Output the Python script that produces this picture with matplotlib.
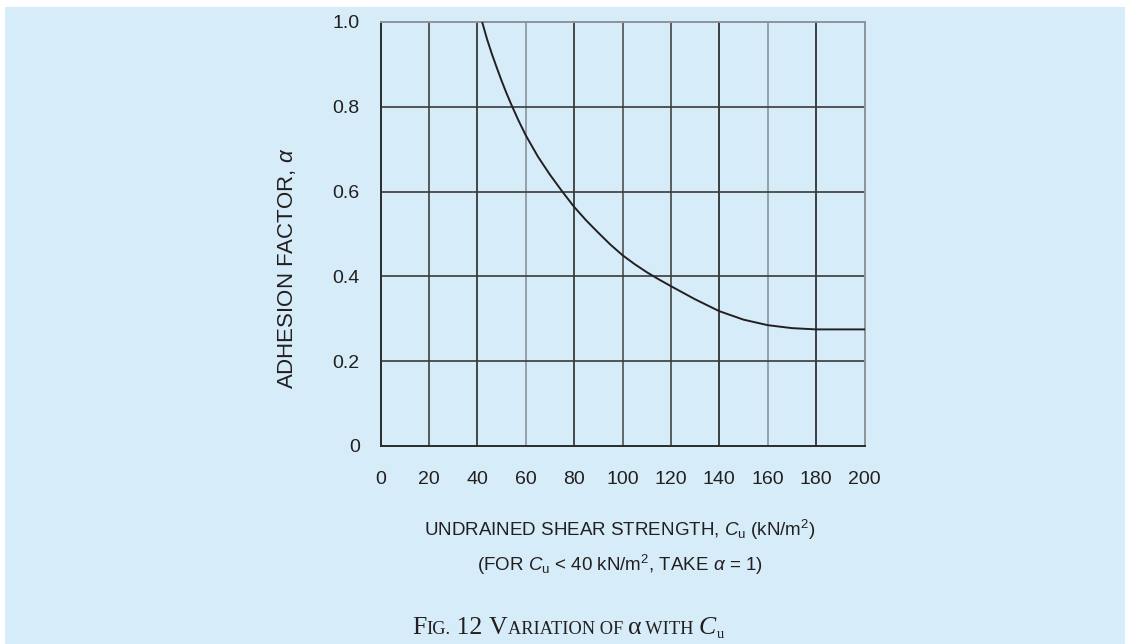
import numpy as np
import matplotlib
matplotlib.use('Agg')
import matplotlib.pyplot as plt
from matplotlib.patches import Rectangle

# values
cu = [42, 44, 46, 48, 50, 52, 54, 57, 60, 65, 70, 75, 80, 85, 90, 95, 100, 105, 110,
      115, 120, 130, 140, 150, 160, 170, 180, 200]
alpha = [1.0, 0.96, 0.925, 0.893, 0.862, 0.833, 0.806, 0.768, 0.733, 0.683, 0.64, 0.601,
         0.564, 0.532, 0.503, 0.475, 0.45, 0.429, 0.41, 0.393, 0.377, 0.346, 0.318, 0.298,
         0.285, 0.278, 0.275, 0.275]

xticks = [0, 20, 40, 60, 80, 100, 120, 140, 160, 180, 200]
yticks = [0, 0.2, 0.4, 0.6, 0.8, 1.0]
ytick_labels = ['0', '0.2', '0.4', '0.6', '0.8', '1.0']

# how dark each vertical grid line looks in the print
vgrid_colors = ['#3a3a3a', '#404040', '#2a2a2a', '#8a949a', '#2e2e2e', '#505050',
                '#444444', '#222222', '#8a949a', '#222222', '#8a949a']

bg = '#d6edf9'
ink = '#231f20'

plt.rcParams['font.family'] = ['Liberation Sans', 'DejaVu Sans']
plt.rcParams['mathtext.fontset'] = 'custom'
plt.rcParams['mathtext.rm'] = 'Liberation Sans'
plt.rcParams['mathtext.it'] = 'Liberation Sans:italic'

W, H = 1125, 644
fig = plt.figure(figsize=(W / 100, H / 100), dpi=100, facecolor='white')
fig.patches.append(Rectangle((5 / W, 0), 1, (H - 7) / H, transform=fig.transFigure,
                             facecolor=bg, edgecolor='none', zorder=-10))

ax = fig.add_axes([380.5 / W, 1 - 446 / H, 484 / W, 424 / H])
ax.set_facecolor(bg)
ax.set_xlim(0, 200)
ax.set_ylim(0, 1.0)
ax.set_xticks(xticks)
ax.set_yticks(yticks)
ax.set_yticklabels(ytick_labels)
ax.tick_params(length=0, labelsize=14, colors=ink)
ax.tick_params(axis='x', pad=18)
ax.tick_params(axis='y', pad=15)

for x, c in zip(xticks[1:-1], vgrid_colors[1:-1]):
    ax.axvline(x, color=c, lw=1.2, zorder=1)
for y in yticks[1:-1]:
    ax.axhline(y, color='#3a3a3a', lw=1.2, zorder=1)

ax.spines['left'].set_color('#2a2a2a')
ax.spines['bottom'].set_color('#2a2a2a')
ax.spines['top'].set_color('#8a949a')
ax.spines['right'].set_color('#8a949a')
for s in ax.spines.values():
    s.set_linewidth(1.4)

ax.plot(cu, alpha, color=ink, lw=1.4, zorder=3, solid_joinstyle='round')

def fx(px):
    return px / W

def fy(py):
    return 1 - py / H

fig.text(fx(287), fy(268), r'ADHESION FACTOR, $\alpha$', rotation=90, fontsize=16,
         color=ink, ha='center', va='center')
fig.text(fx(620), fy(530), r'UNDRAINED SHEAR STRENGTH, $C_{\mathrm{u}}$ (kN/m$^2$)',
         fontsize=13.5, color=ink, ha='center', va='center')
fig.text(fx(620), fy(565), r'(FOR $C_{\mathrm{u}}$ < 40 kN/m$^2$, TAKE $\alpha$ = 1)',
         fontsize=13.5, color=ink, ha='center', va='center')

# caption in small caps, built piece by piece
big, small = 18.5, 13.2
pieces = [('F', big, 'normal'), ('IG.', small, 'normal'), (' 12 ', big, 'normal'),
          ('V', big, 'normal'), ('ARIATION OF ', small, 'normal'), ('\u03b1', big, 'normal'),
          (' WITH ', small, 'normal'), ('C', big, 'italic')]
renderer = fig.canvas.get_renderer()
x = 412
base = H - 634
for s, size, style in pieces:
    t = fig.text(x, base, s, transform=None, fontsize=size, style=style, color=ink,
                 family=['Liberation Serif', 'DejaVu Serif'], va='baseline', ha='left')
    x = t.get_window_extent(renderer).x1
fig.text(x + 1, base - 4, 'u', transform=None, fontsize=10.5, color=ink,
         family=['Liberation Serif', 'DejaVu Serif'], va='baseline', ha='left')

fig.savefig('out.png', dpi=100, facecolor='white')
